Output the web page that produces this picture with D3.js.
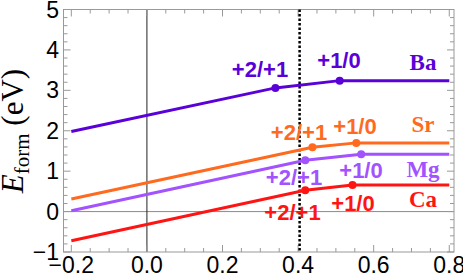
<!DOCTYPE html>
<html>
<head>
<meta charset="utf-8">
<script src="https://cdn.jsdelivr.net/npm/d3@7"></script>
<style>
  html, body { margin: 0; padding: 0; background: #fff; }
  svg { display: block; }
</style>
</head>
<body>
<div id="chart"></div>
<script>
// formation energy vs Fermi level, one line per dopant
var elements = ["Ba", "Sr", "Mg", "Ca"];
var colors = ["#5a00d8", "#ff6a1e", "#a352ff", "#ff1414"];

// x / y of each segment end (start, +2/+1 kink, +1/0 kink, end)
var xBa = [-0.2, 0.34, 0.51, 0.8],  yBa = [1.98, 3.06, 3.24, 3.24];
var xSr = [-0.2, 0.438, 0.554, 0.8], ySr = [0.31, 1.59, 1.70, 1.70];
var xMg = [-0.2, 0.419, 0.567, 0.8], yMg = [0.02, 1.27, 1.42, 1.42];
var xCa = [-0.2, 0.419, 0.544, 0.8], yCa = [-0.72, 0.53, 0.66, 0.66];

var transitionLabels = ["+2/+1", "+1/0"];
var xTicks = [-0.2, 0.0, 0.2, 0.4, 0.6, 0.8];
var yTicks = [-1, 0, 1, 2, 3, 4, 5];
var dottedX = 0.404;

var width = 463, height = 275;
var plotL = 63.5, plotR = 454, plotT = 9.5, plotB = 252;

var x = d3.scaleLinear().domain([-0.2207, 0.8125]).range([plotL, plotR]);
var y = d3.scaleLinear().domain([-1, 5]).range([plotB, plotT]);

var series = elements.map((name, i) => {
    var xs = [xBa, xSr, xMg, xCa][i], ys = [yBa, ySr, yMg, yCa][i];
    return { name: name, color: colors[i], points: xs.map((v, j) => ({ x: v, y: ys[j] })) };
});

var svg = d3.select("#chart").append("svg")
    .attr("width", width)
    .attr("height", height);

// axes through origin
svg.append("line")
    .attr("x1", plotL).attr("x2", plotR)
    .attr("y1", y(0)).attr("y2", y(0))
    .attr("stroke", "#8a8a8a").attr("stroke-width", 1);
svg.append("line")
    .attr("x1", x(0)).attr("x2", x(0))
    .attr("y1", plotT).attr("y2", plotB)
    .attr("stroke", "#222").attr("stroke-width", 1);

// frame + inward ticks on all sides
var frame = svg.append("g").attr("stroke", "#999").attr("stroke-width", 1);
frame.append("rect")
    .attr("x", plotL).attr("y", plotT)
    .attr("width", plotR - plotL).attr("height", plotB - plotT)
    .attr("fill", "none");

d3.range(-0.2, 0.8001, 0.05).forEach(v => {
    var major = Math.abs(Math.round(v * 5) - v * 5) < 1e-6;
    var len = major ? 7 : 4;
    frame.append("line").attr("x1", x(v)).attr("x2", x(v)).attr("y1", plotB).attr("y2", plotB - len);
    frame.append("line").attr("x1", x(v)).attr("x2", x(v)).attr("y1", plotT).attr("y2", plotT + len);
});
d3.range(-1, 5.0001, 0.2).forEach(v => {
    var major = Math.abs(Math.round(v) - v) < 1e-6;
    var len = major ? 7 : 4;
    frame.append("line").attr("y1", y(v)).attr("y2", y(v)).attr("x1", plotL).attr("x2", plotL + len);
    frame.append("line").attr("y1", y(v)).attr("y2", y(v)).attr("x1", plotR).attr("x2", plotR - len);
});

// tick labels
svg.append("g")
    .attr("font-family", "Liberation Sans, Arial, sans-serif")
    .attr("font-size", 23)
    .attr("text-anchor", "middle")
    .selectAll("text")
    .data(xTicks)
    .join("text")
    .attr("x", d => x(d))
    .attr("y", 273)
    .text(d => d3.format(".1f")(d).replace("-", "\u2212"));

svg.append("g")
    .attr("font-family", "Liberation Sans, Arial, sans-serif")
    .attr("font-size", 23)
    .attr("text-anchor", "end")
    .selectAll("text")
    .data(yTicks)
    .join("text")
    .attr("x", 59)
    .attr("y", d => y(d) + 8)
    .text(d => String(d).replace("-", "\u2212"));

// y title
var title = svg.append("text")
    .attr("transform", "translate(23,131) rotate(-90)")
    .attr("text-anchor", "middle")
    .attr("font-family", "Liberation Serif, Times New Roman, serif")
    .attr("font-size", 31);
title.append("tspan").attr("font-style", "italic").text("E");
title.append("tspan").attr("font-size", 21).attr("dy", 6).text("form");
title.append("tspan").attr("dy", -6).text(" (eV)");

// dotted line
svg.append("line")
    .attr("x1", x(dottedX)).attr("x2", x(dottedX))
    .attr("y1", plotT).attr("y2", plotB)
    .attr("stroke", "#000").attr("stroke-width", 2.5)
    .attr("stroke-dasharray", "2.5,2");

// lines
var line = d3.line().x(d => x(d.x)).y(d => y(d.y));
svg.append("g")
    .attr("fill", "none")
    .attr("stroke-width", 3)
    .selectAll("path")
    .data(series)
    .join("path")
    .attr("stroke", d => d.color)
    .attr("d", d => line(d.points));

// transition points
series.forEach(s => {
    svg.append("g")
        .selectAll("circle")
        .data(s.points.slice(1, 3))
        .join("circle")
        .attr("cx", d => x(d.x))
        .attr("cy", d => y(d.y))
        .attr("r", 4)
        .attr("fill", s.color);
});

// annotation positions (centre x, baseline y) in pixels
var annot = {
    Ba: [[260, 77], [339, 68]],
    Sr: [[299, 139.5], [355, 134]],
    Mg: [[294, 185], [361, 178]],
    Ca: [[292.5, 220], [353, 210.5]]
};
var nameY = { Ba: 70, Sr: 131.5, Mg: 176.5, Ca: 207 };

series.forEach(s => {
    annot[s.name].forEach((p, j) => {
        svg.append("text")
            .attr("x", p[0]).attr("y", p[1])
            .attr("text-anchor", "middle")
            .attr("font-family", "Liberation Sans, Arial, sans-serif")
            .attr("font-weight", "bold")
            .attr("font-size", 22)
            .attr("fill", s.color)
            .text(transitionLabels[j]);
    });
    svg.append("text")
        .attr("x", 423).attr("y", nameY[s.name])
        .attr("text-anchor", "middle")
        .attr("font-family", "Liberation Serif, Times New Roman, serif")
        .attr("font-weight", "bold")
        .attr("font-size", 23)
        .attr("fill", s.color)
        .text(s.name);
});
</script>
</body>
</html>
